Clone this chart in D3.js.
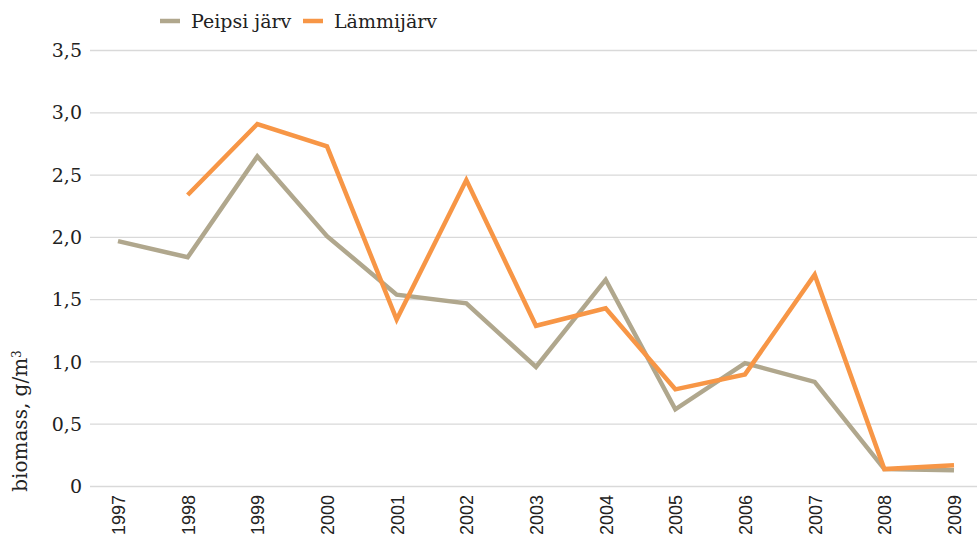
<!DOCTYPE html>
<html>
<head>
<meta charset="utf-8">
<script src="https://cdn.jsdelivr.net/npm/d3@7"></script>
<style>
  body { margin: 0; background: #fff; }
</style>
</head>
<body>
<script>
const years = ["1997", "1998", "1999", "2000", "2001", "2002", "2003", "2004", "2005", "2006", "2007", "2008", "2009"]
const peipsi = [1.97, 1.84, 2.65, 2.01, 1.54, 1.47, 0.96, 1.66, 0.62, 0.99, 0.84, 0.14, 0.13]
const lammi = [null, 2.34, 2.91, 2.73, 1.34, 2.46, 1.29, 1.43, 0.78, 0.90, 1.70, 0.14, 0.17]
const yTicks = [0, 0.5, 1, 1.5, 2, 2.5, 3, 3.5]

const series = [
    { name: "Peipsi järv", values: peipsi, color: "#b0a78d" },
    { name: "Lämmijärv", values: lammi, color: "#f79646" }
]

const width = 977
const height = 542
const gridLeft = 90
const gridRight = 977

const x = d3.scalePoint(years, [118, 954])
const y = d3.scaleLinear([0, 3.5], [486.5, 50.5])

const svg = d3.select("body").append("svg")
    .attr("width", width)
    .attr("height", height)
    .attr("viewBox", [0, 0, width, height])

// gridlines + y tick labels
svg.append("g")
    .selectAll("line")
    .data(yTicks)
    .join("line")
    .attr("x1", gridLeft)
    .attr("x2", gridRight)
    .attr("y1", d => y(d))
    .attr("y2", d => y(d))
    .attr("stroke", "#d9d9d9")
    .attr("stroke-width", 1.3)

const fmt = d => d === 0 ? "0" : d3.format(".1f")(d).replace(".", ",")

svg.append("g")
    .style("font", "19px 'DejaVu Serif', serif")
    .attr("fill", "#222")
    .attr("text-anchor", "end")
    .selectAll("text")
    .data(yTicks)
    .join("text")
    .attr("x", 82)
    .attr("y", d => y(d))
    .attr("dy", "0.35em")
    .text(fmt)

// x labels
svg.append("g")
    .style("font", "18px 'Liberation Sans', Arial, sans-serif")
    .attr("fill", "#222")
    .attr("text-anchor", "end")
    .selectAll("text")
    .data(years)
    .join("text")
    .attr("transform", d => `translate(${x(d) + 7},495) rotate(-90)`)
    .text(d => d)

// y title
svg.append("text")
    .attr("transform", "translate(27,421) rotate(-90)")
    .attr("text-anchor", "middle")
    .style("font", "20px 'DejaVu Serif', serif")
    .attr("fill", "#222")
    .call(t => t.append("tspan").text("biomass, g/m"))
    .call(t => t.append("tspan").attr("dy", "-0.5em").style("font-size", "12px").text("3"))

// lines
const line = d3.line()
    .defined(d => d.v != null)
    .x(d => x(d.year))
    .y(d => y(d.v))

svg.append("g")
    .attr("fill", "none")
    .attr("stroke-width", 4.5)
    .attr("stroke-linejoin", "miter")
    .selectAll("path")
    .data(series)
    .join("path")
    .attr("stroke", d => d.color)
    .attr("d", d => line(d.values.map((v, i) => ({ year: years[i], v }))))

// legend
const legend = svg.append("g")
    .style("font", "19px 'DejaVu Serif', serif")
    .attr("fill", "#222")

const legendX = [160, 303]
series.forEach((s, i) => {
    legend.append("line")
        .attr("x1", legendX[i]).attr("x2", legendX[i] + 20)
        .attr("y1", 21).attr("y2", 21)
        .attr("stroke", s.color)
        .attr("stroke-width", 4.5)
    legend.append("text")
        .attr("x", legendX[i] + 31)
        .attr("y", 21)
        .attr("dy", "0.35em")
        .text(s.name)
})
</script>
</body>
</html>
